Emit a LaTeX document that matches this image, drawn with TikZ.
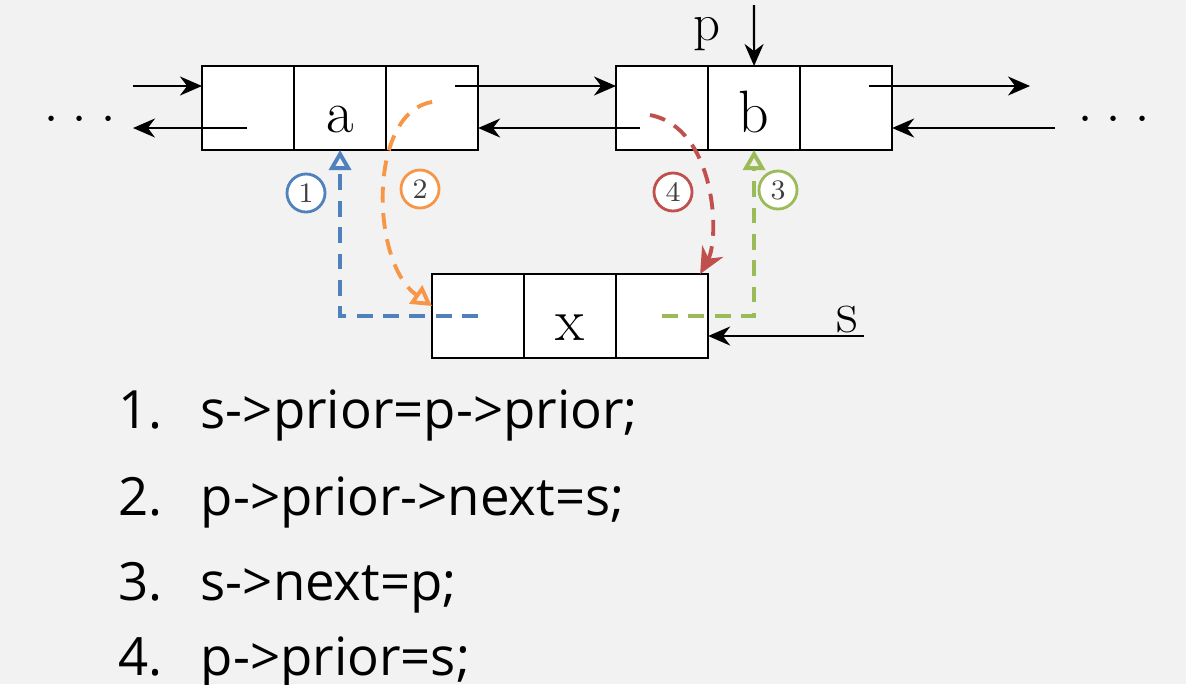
\documentclass[tikz,border=0pt]{standalone}
\usepackage{fontspec}
\usepackage{tikz}
\usetikzlibrary{positioning,calc,arrows.meta}
\newfontfamily\listfont{Open Sans}
\definecolor{pagebg}{HTML}{F2F2F2}
\definecolor{stepblue}{HTML}{4F81BD}
\definecolor{steporange}{HTML}{F79646}
\definecolor{stepgreen}{HTML}{9BBB59}
\definecolor{stepred}{HTML}{C0504D}

\tikzset{
  cell/.style={draw, fill=white, line width=0.6pt, minimum width=0.92cm, minimum height=0.84cm, inner sep=0pt, outer sep=0pt},
  ptr/.style={line width=0.6pt, -{Stealth[length=2.2mm, width=1.9mm]}},
  link/.style={line width=1.1pt, dash pattern=on 4.5pt off 3pt},
  num/.style={circle, draw, line width=0.8pt, minimum size=0.38cm, inner sep=0pt, fill=white, text=black!75, font=\fontsize{8}{8}\selectfont},
  val/.style={font=\fontsize{17}{20}\selectfont, anchor=base},
  code/.style={font=\listfont\fontsize{15}{16}\selectfont, anchor=base west, inner sep=0pt}
}

\begin{document}
\begin{tikzpicture}[x=0.01cm, y=-0.01cm]
  \fill[pagebg] (0,0) rectangle (1186,684);
  \useasboundingbox (0,0) rectangle (1186,684);

  % Node a
  \node[cell] (a1) at (248,108) {};
  \node[cell, right=0pt of a1] (a2) {};
  \node[cell, right=0pt of a2] (a3) {};
  \node[val] (ta) at (340,132) {a};

  % Node b
  \node[cell] (b1) at (662,108) {};
  \node[cell, right=0pt of b1] (b2) {};
  \node[cell, right=0pt of b2] (b3) {};
  \node[val] (tb) at (754,132) {b};

  % Node x (new one)
  \node[cell] (x1) at (478,316) {};
  \node[cell, right=0pt of x1] (x2) {};
  \node[cell, right=0pt of x2] (x3) {};
  \node[val] (tx) at (570,340) {x};

  % dots on both ends
  \node[font=\fontsize{14}{14}\selectfont] (ldots) at (80,120) {$\cdotp\hspace{1.8pt}\cdotp\hspace{1.8pt}\cdotp$};
  \node[font=\fontsize{14}{14}\selectfont] (rdots) at (1114,120) {$\cdotp\hspace{1.8pt}\cdotp\hspace{1.8pt}\cdotp$};

  % Pointers p and s
  \node[val, font=\fontsize{15}{18}\selectfont] (tp) at (707,40) {p};
  \node[val] (ts) at (847,332) {s};
  \coordinate (pin) at (754,5);
  \coordinate (sin) at (864,336);
  \draw[ptr] (pin) -- (b2.north);
  \draw[ptr] (sin) -- ($(x3.east)+(0,20)$);

  % Old links
  \coordinate (lin) at (133,86);
  \coordinate (lout) at (133,128);
  \coordinate (rout) at (1030,86);
  \coordinate (rin) at (1055,128);
  \draw[ptr] (lin) -- ($(a1.west)+(0,-22)$);
  \draw[ptr] ($(a1.center)+(-1,20)$) -- (lout);
  \draw[ptr] ($(a3.center)+(23,-22)$) -- ($(b1.west)+(0,-22)$);
  \draw[ptr] ($(b1.center)+(-22,20)$) -- ($(a3.east)+(0,20)$);
  \draw[ptr] ($(b3.center)+(23,-22)$) -- (rout);
  \draw[ptr] (rin) -- ($(b3.east)+(0,20)$);

  % Steps 1 to 4
  \draw[link, stepblue, -{Triangle[open, length=2mm, width=2.2mm]}] (x1.center) -| (a2.south);
  \draw[link, stepgreen, -{Triangle[open, length=2mm, width=2.2mm]}] (x3.center) -| (b2.south);
  \draw[link, steporange, -{Triangle[open, length=2mm, width=2.2mm]}]
    ($(a3.center)+(0,-6)$) .. controls (368,112) and (370,262) .. ($(x1.west)+(0,-10)$);
  \draw[link, stepred, -{Stealth[length=2.6mm, width=2.4mm]}]
    ($(b1.center)+(-12,7)$) .. controls (716,128) and (720,238) .. ($(x3.north east)+(-8,0)$);

  \node[num, draw=stepblue] (n1) at (306,193) {1};
  \node[num, draw=steporange] (n2) at (420,189) {2};
  \node[num, draw=stepgreen] (n3) at (778,190) {3};
  \node[num, draw=stepred] (n4) at (673,192) {4};

  % Statements
  \node[code] (k1) at (118,428) {1.};
  \node[code] (c1) at (200,428) {s->prior=p->prior;};
  \node[code] (k2) at (118,515) {2.};
  \node[code] (c2) at (200,515) {p->prior->next=s;};
  \node[code] (k3) at (118,600) {3.};
  \node[code] (c3) at (200,600) {s->next=p;};
  \node[code] (k4) at (118,675) {4.};
  \node[code] (c4) at (200,675) {p->prior=s;};
\end{tikzpicture}
\end{document}
